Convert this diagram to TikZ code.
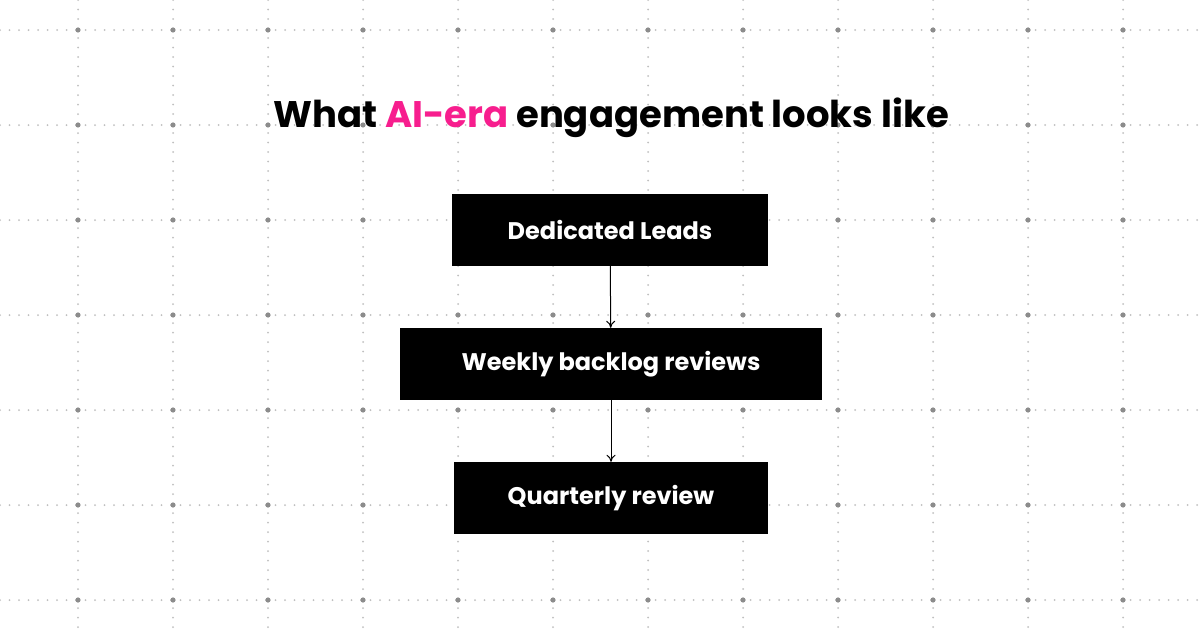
\documentclass[tikz,border=0pt]{standalone}
\usepackage{fontspec}
\setmainfont{Poppins}
\usepackage{tikz}
\usetikzlibrary{positioning, arrows.meta}
\definecolor{aipink}{HTML}{F71E8E}
\tikzset{
    stepbox/.style={fill=black, text=white, minimum height=72pt, inner xsep=0pt,
        font=\fontsize{24}{28}\selectfont\bfseries},
    link/.style={-{To[length=7pt,width=9pt]}, line width=1pt},
}
\begin{document}
\begin{tikzpicture}[x=1pt, y=-1pt]
    \def\raster{95}
    \useasboundingbox (0,0) rectangle (1200,629);
    \fill[white] (0,0) rectangle (1200,629);

    % dotted grid
    \foreach \y in {0,...,6}
    {
        \foreach \k in {0,...,126}
            \fill[black!25] (\k*9.5, 30+\y*\raster) circle (1pt);
    }
    \foreach \x in {0,...,11}
    {
        \foreach \k in {0,...,66}
            \fill[black!25] (78+\x*\raster, \k*9.5) circle (1pt);
    }
    \foreach \x in {0,...,11}
        \foreach \y in {0,...,6}
            \fill[black!45] (78+\x*\raster, 30+\y*\raster) circle (2.6pt);

    % title
    \node (title) at (611,118) {\fontsize{37}{44}\selectfont\bfseries What \textcolor{aipink}{AI-era} engagement looks like};

    % steps
    \node[stepbox, minimum width=316pt] (leads) at (610,230) {Dedicated Leads};
    \node[stepbox, minimum width=422pt] (backlog) at (611,364) {Weekly backlog reviews};
    \node[stepbox, minimum width=314pt] (quarter) at (611,498) {Quarterly review};

    \draw[link] (leads) -- (backlog);
    \draw[link] (backlog) -- (quarter);
\end{tikzpicture}
\end{document}
